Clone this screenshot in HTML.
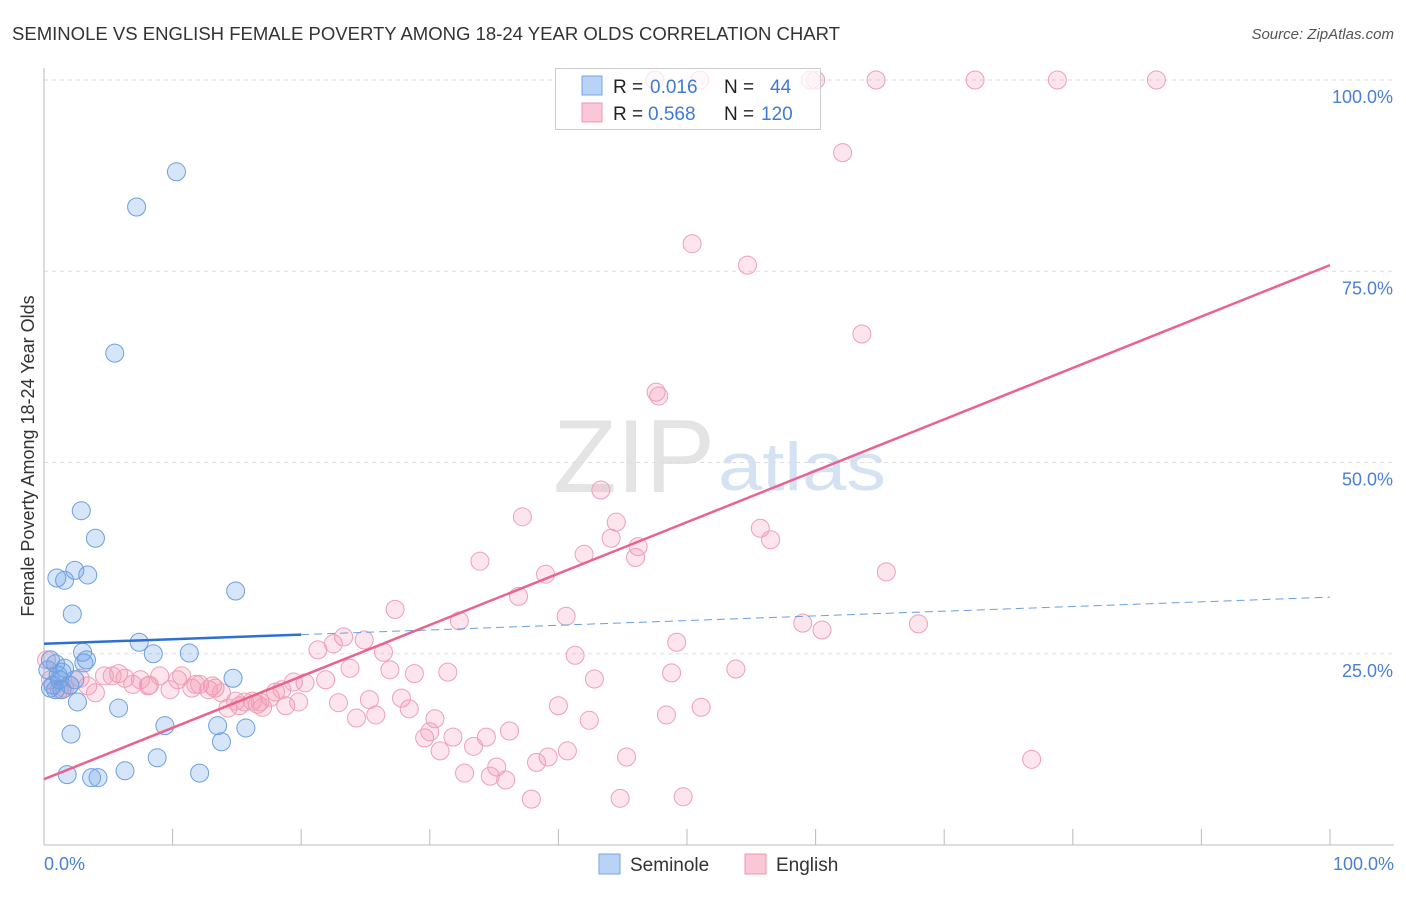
<!DOCTYPE html>
<html><head><meta charset="utf-8"><style>
body{margin:0;background:#fff;font-family:"Liberation Sans",sans-serif;}
svg text{font-family:"Liberation Sans",sans-serif;}
</style></head><body>
<svg id="chart" width="1406" height="892">
<text x="12" y="40" font-size="18" fill="#333" textLength="828" lengthAdjust="spacingAndGlyphs">SEMINOLE VS ENGLISH FEMALE POVERTY AMONG 18-24 YEAR OLDS CORRELATION CHART</text>
<text x="1394" y="39" font-size="15" fill="#555" text-anchor="end" font-style="italic">Source: ZipAtlas.com</text>
<text x="553" y="492" font-size="104" fill="#e4e4e4" font-family="Liberation Serif,serif" textLength="162" lengthAdjust="spacingAndGlyphs">ZIP</text>
<text x="718" y="490" font-size="68" fill="#d4e2f4" textLength="168" lengthAdjust="spacingAndGlyphs">atlas</text>
<g id="grid"></g><g id="axes"></g><g id="pink"></g><g id="blue"></g><g id="lines"></g>
<text transform="translate(34,456) rotate(-90)" font-size="18" fill="#333" text-anchor="middle">Female Poverty Among 18-24 Year Olds</text>
<text x="44" y="870" font-size="18" fill="#4a7fd4">0.0%</text>
<text x="1394" y="870" font-size="18" fill="#4a7fd4" text-anchor="end">100.0%</text>
<g>
<rect x="555.5" y="68.5" width="265" height="61" fill="#fff" fill-opacity="0.75" stroke="#ccc"/>
<rect x="582" y="76" width="20" height="19" fill="#b8d3f5" stroke="#7aa6e2"/>
<rect x="582" y="103" width="20" height="19" fill="#f9c7d6" stroke="#ec97b0"/>
<text x="613" y="93" font-size="19" fill="#222">R = </text><text x="650" y="93" font-size="19" fill="#3f7bd4">0.016</text>
<text x="724" y="93" font-size="19" fill="#222">N = </text><text x="770" y="93" font-size="19" fill="#3f7bd4">44</text>
<text x="613" y="120" font-size="19" fill="#222">R = </text><text x="648" y="120" font-size="19" fill="#3f7bd4">0.568</text>
<text x="724" y="120" font-size="19" fill="#222">N = </text><text x="761" y="120" font-size="19" fill="#3f7bd4">120</text>
</g>
<g>
<rect x="599" y="854" width="21" height="20" fill="#b8d3f5" stroke="#7aa6e2"/>
<text x="630" y="871" font-size="19" fill="#333">Seminole</text>
<rect x="745" y="854" width="21" height="20" fill="#f9c7d6" stroke="#ec97b0"/>
<text x="776" y="871" font-size="19" fill="#333">English</text>
</g>
</svg>
<script>
const yTicks=[25,50,75,100];
const yTickLabels=["25.0%","50.0%","75.0%","100.0%"];
const xTicks=[0,10,20,30,40,50,60,70,80,90,100];
const blueX=[10.3,7.2,5.5,2.9,4.0,1.0,1.6,2.4,3.4,14.9,2.2,7.4,8.5,11.3,14.7,3.0,3.1,0.9,1.4,0.5,0.7,2.6,5.8,9.4,13.5,15.7,2.1,13.8,8.8,6.3,12.1,1.8,3.7,4.2,1.2,2.0,0.3,3.3,1.6,0.9,2.4,0.5,1.1,1.4];
const blueY=[88.0,83.4,64.3,43.7,40.1,34.9,34.6,35.9,35.3,33.2,30.2,26.5,25.0,25.1,21.8,25.2,23.8,23.7,22.6,20.5,20.9,18.7,17.9,15.6,15.6,15.3,14.5,13.5,11.4,9.7,9.4,9.2,8.8,8.8,21.6,20.9,22.9,24.2,23.1,20.3,21.6,24.2,22.2,20.3];
const pinkX=[47.5,51.0,59.6,60.0,64.7,72.4,78.8,86.5,62.1,50.4,54.7,63.6,47.6,47.8,43.3,37.2,44.5,44.1,46.2,46.0,55.7,56.5,33.9,39.0,65.5,42.0,27.3,36.9,40.6,32.3,59.0,60.5,68.0,23.3,24.9,21.3,22.5,26.4,49.2,41.3,23.8,26.9,31.4,28.8,42.8,48.8,53.8,21.9,19.4,20.3,22.9,25.3,27.8,24.3,25.8,28.4,40.0,42.4,48.4,51.1,30.4,29.6,30.0,31.8,34.4,36.2,33.4,30.8,40.7,39.2,38.3,45.3,76.8,32.7,35.2,34.7,35.9,37.9,44.8,49.7,0.2,0.5,1.2,2.0,2.8,4.0,4.7,5.8,6.3,6.9,7.5,8.2,9.0,9.8,10.4,10.7,11.5,12.1,12.8,13.3,13.8,14.3,14.9,15.6,16.2,16.6,17.0,17.6,18.0,18.5,18.8,19.8,16.8,15.2,13.1,11.8,8.1,5.3,3.4,1.6];
const pinkY=[100,100,100,100,100,100,100,100,90.5,78.6,75.8,66.8,59.2,58.7,46.4,42.9,42.2,40.1,39.0,37.6,41.4,39.9,37.1,35.4,35.7,38.0,30.8,32.5,29.9,29.3,29.0,28.1,28.9,27.2,26.8,25.5,26.3,25.2,26.5,24.8,23.1,22.9,22.6,22.4,21.7,22.5,23.0,21.6,21.3,21.2,18.6,19.0,19.2,16.6,17.0,17.8,18.2,16.3,17.0,18.0,16.5,14.0,14.8,14.1,14.1,14.9,12.9,12.3,12.3,11.5,10.8,11.5,11.2,9.4,10.2,9.0,8.5,6.0,6.1,6.3,24.2,21.6,20.3,20.9,21.8,19.9,22.1,22.4,21.8,21.0,21.6,20.9,22.1,20.3,21.6,22.1,20.5,21.0,20.3,20.5,19.9,17.9,18.8,18.7,18.8,18.4,18.0,19.3,20.0,20.3,18.2,18.7,18.7,18.2,20.8,21.0,20.8,22.1,20.8,20.5];
const blueTrend=[[0,26.3],[20,27.5],[100,32.4]];
const pinkTrend=[[0,8.6],[100,75.8]];
const NS="http://www.w3.org/2000/svg";
const X=v=>44+v*12.86, Y=v=>845-v*7.65;
function mk(t,a,p){const e=document.createElementNS(NS,t);for(const k in a)e.setAttribute(k,a[k]);document.getElementById(p).appendChild(e);return e;}
yTicks.forEach((t,i)=>{
 const g=mk('line',{x1:44,x2:1394,y1:Y(t),y2:Y(t),stroke:'#ddd','stroke-dasharray':'4,4'},'grid');
 
 
 const l=mk('text',{x:1393,y:Y(t)+23,'font-size':18,fill:'#4a7fd4','text-anchor':'end'},'grid');
 l.textContent=yTickLabels[i];
 
 
});
const ax=mk('line',{x1:44,x2:44,y1:68,y2:845,stroke:'#bbb'},'axes');


const bx=mk('line',{x1:44,x2:1394,y1:845,y2:845,stroke:'#bbb'},'axes');


xTicks.forEach(t=>{
 const k=mk('line',{x1:X(t),x2:X(t),y1:829,y2:845,stroke:'#bbb'},'axes');
 
 
});
pinkX.forEach((x,i)=>{
 const c=mk('circle',{cx:X(x),cy:Y(pinkY[i]),r:9,fill:'rgba(242,150,178,0.25)',stroke:'#ef9fb7','stroke-width':1},'pink');
 
 
});
blueX.forEach((x,i)=>{
 const c=mk('circle',{cx:X(x),cy:Y(blueY[i]),r:9,fill:'rgba(110,160,230,0.28)',stroke:'#6d9fe0','stroke-width':1},'blue');
 
 
});
const bs=mk('line',{x1:X(blueTrend[0][0]),y1:Y(blueTrend[0][1]),x2:X(blueTrend[1][0]),y2:Y(blueTrend[1][1]),stroke:'#2d6fd4','stroke-width':2.5},'lines');


const bd=mk('line',{x1:X(blueTrend[1][0]),y1:Y(blueTrend[1][1]),x2:X(blueTrend[2][0]),y2:Y(blueTrend[2][1]),stroke:'#6a9ee0','stroke-width':1,'stroke-dasharray':'8,5'},'lines');


const pt=mk('line',{x1:X(pinkTrend[0][0]),y1:Y(pinkTrend[0][1]),x2:X(pinkTrend[1][0]),y2:Y(pinkTrend[1][1]),stroke:'#e8648f','stroke-width':2.5},'lines');


</script>
</body></html>
